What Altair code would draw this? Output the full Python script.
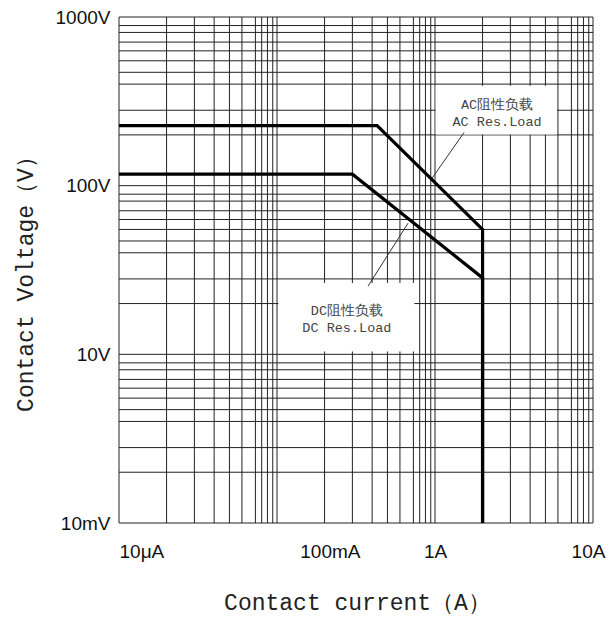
import altair as alt
import pandas as pd

# ---- data ----
# grid: decade starts and the (irregular) line multipliers inside each decade
x_decades = [0.01, 0.1, 1.0]
x_mult = [1, 2, 3, 4, 5, 6, 7.3, 8, 8.7, 9.4]
x_end = 10.0
y_decades = [1.0, 10.0, 100.0]
y_mult = [1, 2, 2.8, 4, 4.7, 5.5, 6.3, 7.1, 8.1, 8.9]
y_end = 1000.0

# tick labels (as printed in the original)
x_tick_vals = [0.01, 0.216, 1.0, 9.3]
x_tick_text = ["10μA", "100mA", "1A", "10A"]
y_tick_vals = [1.0, 10.0, 100.0, 1000.0]
y_tick_text = ["10mV", "10V", "100V", "1000V"]

# load curves
ac_current = [0.01, 0.43, 2.0, 2.0]
ac_voltage = [227, 227, 55, 1]
dc_current = [0.01, 0.30, 2.0, 2.0]
dc_voltage = [117, 117, 28.4, 1]

# annotations
ann_text = ["AC阻性负载", "AC Res.Load", "DC阻性负载", "DC Res.Load"]
ann_x = [2.47, 2.47, 0.277, 0.277]
ann_y = [302, 240, 18.1, 14.4]
box_x = [1.01, 0.102]
box_x2 = [5.92, 0.74]
box_y = [391, 26.5]
box_y2 = [201, 10.4]
lead_x = [1.527, 0.675]
lead_y = [206.6, 59.9]
lead_x2 = [0.957, 0.377]
lead_y2 = [110.5, 25.4]

# ---- tables ----
x_grid = [d * m for d in x_decades for m in x_mult] + [x_end]
y_grid = [d * m for d in y_decades for m in y_mult] + [y_end]
gx = pd.DataFrame({"gx": x_grid})
gy = pd.DataFrame({"gy": y_grid})
curves = pd.DataFrame({
    "series": ["AC"] * len(ac_current) + ["DC"] * len(dc_current),
    "i": list(range(len(ac_current))) + list(range(len(dc_current))),
    "current": ac_current + dc_current,
    "voltage": ac_voltage + dc_voltage,
})
ann = pd.DataFrame({"t": ann_text, "x": ann_x, "y": ann_y})
boxes = pd.DataFrame({"x": box_x, "x2": box_x2, "y": box_y, "y2": box_y2})
leads = pd.DataFrame({"x": lead_x, "y": lead_y, "x2": lead_x2, "y2": lead_y2})


def label_expr(vals, texts):
    e = "''"
    for v, t in reversed(list(zip(vals, texts))):
        e = f"datum.value == {v} ? '{t}' : ({e})"
    return e


xscale = alt.Scale(type="log", domain=[0.01, 10], nice=False)
yscale = alt.Scale(type="log", domain=[1, 1000], nice=False)

xaxis = alt.Axis(
    values=x_tick_vals,
    labelExpr=label_expr(x_tick_vals, x_tick_text),
    grid=False, ticks=False, domain=False,
    labelFont="Liberation Sans", labelFontSize=19, labelColor="#111",
    labelPadding=19, labelFlush=False, labelOverlap=False,
    labelAlign={"condition": {"test": "datum.value <= 0.011", "value": "left"}, "value": "center"},
    title="Contact current（A）",
    titleFont="Liberation Mono", titleFontSize=23, titleFontWeight="normal",
    titleColor="#222", titleX=238, titleY=86, titleBaseline="alphabetic",
    titleAlign="center",
)
yaxis = alt.Axis(
    values=y_tick_vals,
    labelExpr=label_expr(y_tick_vals, y_tick_text),
    grid=False, ticks=False, domain=False,
    labelFont="Liberation Sans", labelFontSize=19, labelColor="#111",
    labelPadding=9, labelFlush=False, labelOverlap=False, labelBaseline="middle",
    title="Contact Voltage（V）",
    titleFont="Liberation Mono", titleFontSize=23, titleFontWeight="normal",
    titleColor="#222", titleAngle=270, titleX=-87, titleY=261,
    titleBaseline="alphabetic", titleAlign="center",
)


def X(f):
    return alt.X(f, type="quantitative", scale=xscale, axis=xaxis)


def Y(f):
    return alt.Y(f, type="quantitative", scale=yscale, axis=yaxis)


vgrid = alt.Chart(gx).mark_rule(color="#222", strokeWidth=1).encode(x=X("gx"))
hgrid = alt.Chart(gy).mark_rule(color="#222", strokeWidth=1).encode(y=Y("gy"))
rects = alt.Chart(boxes).mark_rect(fill="white").encode(
    x=X("x"), x2="x2", y=Y("y"), y2="y2")
lead = alt.Chart(leads).mark_rule(color="#333", strokeWidth=1).encode(
    x=X("x"), y=Y("y"), x2="x2", y2="y2")
lines = alt.Chart(curves).mark_line(color="black", strokeWidth=3.2).encode(
    x=X("current"), y=Y("voltage"), detail="series:N", order="i:Q")
texts = alt.Chart(ann).mark_text(
    font="Liberation Mono", fontSize=13.5, color="#444", align="center", baseline="middle"
).encode(x=X("x"), y=Y("y"), text="t:N")

chart = alt.layer(vgrid, hgrid, rects, lead, lines, texts).properties(
    width=474, height=506,
    padding={"left": 111, "top": 9, "right": 14, "bottom": 92},
    autosize=alt.AutoSizeParams(type="none"),
).configure_view(stroke=None)

chart.save("out.html", embed_options={"renderer": "svg", "actions": False})
